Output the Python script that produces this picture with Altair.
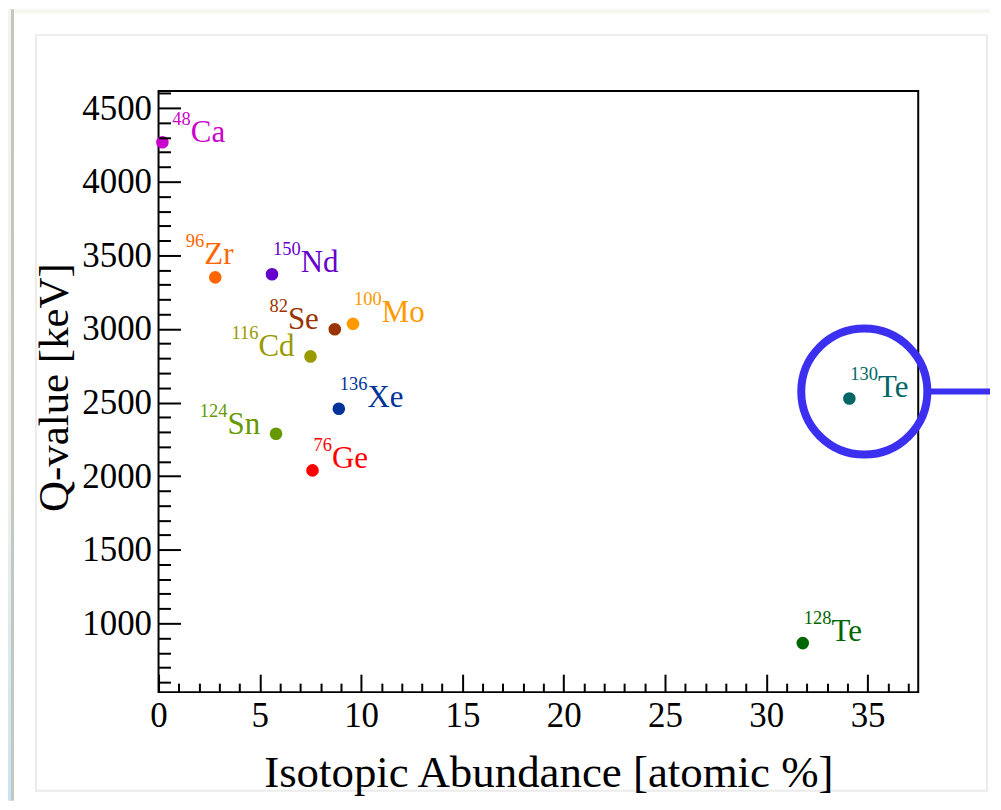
import altair as alt
import pandas as pd

# ---------------- data ----------------
isotopes = ["48Ca", "76Ge", "82Se", "96Zr", "100Mo", "116Cd", "124Sn", "128Te", "130Te", "136Xe", "150Nd"]
mass_numbers = ["48", "76", "82", "96", "100", "116", "124", "128", "130", "136", "150"]
elements = ["Ca", "Ge", "Se", "Zr", "Mo", "Cd", "Sn", "Te", "Te", "Xe", "Nd"]
abundance = [0.19, 7.6, 8.7, 2.8, 9.6, 7.5, 5.8, 31.8, 34.1, 8.9, 5.6]
q_value = [4268, 2039, 2998, 3350, 3034, 2813, 2288, 866, 2527, 2458, 3371]
colors = ["#cc00cc", "#ff0000", "#993300", "#ff6600", "#ff9900", "#999900",
          "#669900", "#006600", "#006666", "#003399", "#6600cc"]
label_side = ["right-far", "right", "left", "above", "right", "left", "left",
              "right", "right", "right", "right"]
highlighted = "130Te"

x_major = [0, 5, 10, 15, 20, 25, 30, 35]
x_minor = list(range(0, 38))
y_major = [1000, 1500, 2000, 2500, 3000, 3500, 4000, 4500]
y_minor = list(range(600, 4700, 100))

# ---------------- layout / style ----------------
W, H = 762, 603
XMIN, XMAX = 0.0, 37.5
YMIN, YMAX = 533.0, 4616.0
PX_X = W / (XMAX - XMIN)
PX_Y = H / (YMAX - YMIN)
FONT = "Liberation Serif"
EL_SIZE = 31
SUP_SIZE = 18.5
BLUE = "#3b2ff0"

# Times-like advance widths (em) for label letters
char_w = {"C": 0.667, "a": 0.444, "G": 0.722, "e": 0.444, "S": 0.556, "Z": 0.611,
          "r": 0.333, "M": 0.889, "o": 0.5, "d": 0.5, "n": 0.5, "T": 0.611,
          "X": 0.722, "N": 0.722}


def boundary_offset(side, mass, el):
    nd = len(mass) * 0.5 * SUP_SIZE
    ew = sum(char_w[c] for c in el) * EL_SIZE
    if side == "right":
        return nd + 1, -2
    if side == "right-far":
        return nd + 10, 0
    if side == "left":
        return -16 - ew, 0
    return -11, -13  # above


rows = []
for iso, m, el, a, q, s in zip(isotopes, mass_numbers, elements, abundance, q_value, label_side):
    bx, by = boundary_offset(s, m, el)
    rows.append({
        "isotope": iso, "mass": m, "element": el, "abundance": a, "q": q,
        "ax": a + bx / PX_X, "ay": q - by / PX_Y,
        "cx": a + 15 / PX_X, "cy": q + 7 / PX_Y, "lx": a + 78 / PX_X,
    })
df = pd.DataFrame(rows)

xs = alt.Scale(domain=[XMIN, XMAX], nice=False, zero=False)
ys = alt.Scale(domain=[YMIN, YMAX], nice=False, zero=False)
col = alt.Color("isotope:N", scale=alt.Scale(domain=isotopes, range=colors), legend=None)

base = alt.Chart(df)
one = alt.Data(values=[{"k": 0}])


def deco_rect(x0, x1, y0, y1, **mk):
    return alt.Chart(one).mark_rect(**mk).encode(
        x=alt.value(x0), x2=alt.value(x1), y=alt.value(y0), y2=alt.value(y1))


top_strip = deco_rect(-151, 834, -82, -78, color="#f5f6ee")
left_strip = deco_rect(-151, -148, -82, 712, color=alt.Gradient(
    gradient="linear", x1=0, y1=0, x2=0, y2=1,
    stops=[alt.GradientStop(color="#f3f4ec", offset=0), alt.GradientStop(color="#f0f2ea", offset=0.6),
           alt.GradientStop(color="#c9e3f2", offset=1)]))
shadow = deco_rect(-148, -145, -82, 712, color="#c3c7c2")
inner_frame = deco_rect(-123, 831, -56, 702, filled=False, stroke="#ebebeb", strokeWidth=2)

axis_common = dict(labelFont=FONT, labelColor="black", titleFont=FONT, titleColor="black",
                   titleFontWeight="normal", grid=False, domain=False, zindex=1,
                   labelFlush=False, labelOverlap=False, format="d")

points = base.mark_circle(size=160, opacity=1).encode(
    x=alt.X("abundance:Q", scale=xs, axis=alt.Axis(
        orient="bottom", values=x_major, ticks=False, tickSize=0, labelFontSize=35,
        labelPadding=6, title="Isotopic Abundance [atomic %]", titleFontSize=45,
        titleX=391, titleY=95, titleAlign="center", titleBaseline="alphabetic", **axis_common)),
    y=alt.Y("q:Q", scale=ys, axis=alt.Axis(
        orient="left", values=y_major, ticks=False, tickSize=0, labelFontSize=35,
        labelPadding=7, title="Q-value [keV]", titleFontSize=43, titleAngle=270,
        titleX=-91, titleY=297, titleAlign="center", titleBaseline="alphabetic", **axis_common)),
    color=col,
)

tick_common = dict(labels=False, domain=False, grid=False, title=None, tickColor="black",
                   tickWidth=2, zindex=1)
ticks = base.mark_circle(opacity=0).encode(
    x=alt.X("abundance:Q", scale=xs, axis=alt.Axis(
        orient="top", offset=-H, values=x_minor,
        tickSize={"condition": {"test": "datum.value % 5 === 0", "value": 18}, "value": 9},
        **tick_common)),
    y=alt.Y("q:Q", scale=ys, axis=alt.Axis(
        orient="right", offset=-W, values=y_minor,
        tickSize={"condition": {"test": "datum.value % 500 === 0", "value": 22}, "value": 12},
        **tick_common)),
)

sup = base.mark_text(align="right", baseline="alphabetic", font=FONT, fontSize=SUP_SIZE, dy=-17).encode(
    x=alt.X("ax:Q", scale=xs, axis=None), y=alt.Y("ay:Q", scale=ys, axis=None),
    text="mass:N", color=col)
elem = base.mark_text(align="left", baseline="alphabetic", font=FONT, fontSize=EL_SIZE).encode(
    x=alt.X("ax:Q", scale=xs, axis=None), y=alt.Y("ay:Q", scale=ys, axis=None),
    text="element:N", color=col)

hl = base.transform_filter(alt.datum.isotope == highlighted)
ring = hl.mark_point(shape="circle", filled=False, size=16000, stroke=BLUE, strokeWidth=8, opacity=1).encode(
    x=alt.X("cx:Q", scale=xs, axis=None), y=alt.Y("cy:Q", scale=ys, axis=None))
pointer = hl.mark_rule(color=BLUE, strokeWidth=6).encode(
    x=alt.X("lx:Q", scale=xs, axis=None), x2=alt.value(834), y=alt.Y("cy:Q", scale=ys, axis=None))

chart = alt.layer(
    top_strip, left_strip, shadow, inner_frame, points, ticks, sup, elem, ring, pointer
).resolve_axis(x="independent", y="independent").properties(
    width=W, height=H, padding=0, background="white"
).configure_view(stroke="black", strokeWidth=2)

chart.save("out.html", embed_options={"renderer": "svg", "actions": False})
